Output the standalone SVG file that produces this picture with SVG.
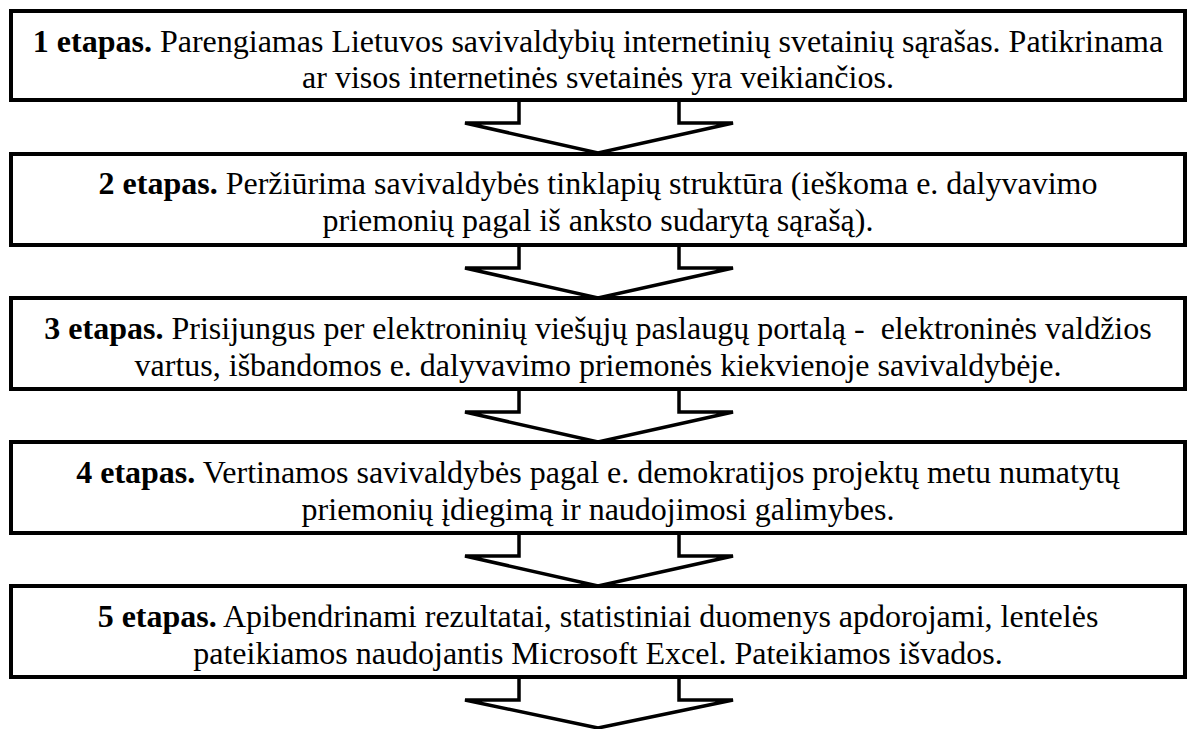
<svg xmlns="http://www.w3.org/2000/svg" width="1192" height="729" viewBox="0 0 1192 729">
<style>
.box{fill:#fff;stroke:#000;stroke-width:4}
.arr{fill:#fff;stroke:#000;stroke-width:3.5;stroke-linejoin:miter}
.t{font-family:"Liberation Serif","Times New Roman",serif;font-size:32px;fill:#000;text-anchor:middle;white-space:pre}
.b{font-weight:bold}
</style>
<rect width="1192" height="729" fill="#fff"/>
<g id="connectors">
<polygon class="arr" points="519,100 519,123 465,123 598,153 733,123 679,123 679,100"/>
<polygon class="arr" points="519,245 519,268 465,268 598,298 733,268 679,268 679,245"/>
<polygon class="arr" points="519,389 519,412 465,412 598,442 733,412 679,412 679,389"/>
<polygon class="arr" points="519,533 519,556 465,556 598,586 733,556 679,556 679,533"/>
<polygon class="arr" points="519,677 519,700 465,700 598,728 733,700 679,700 679,677"/>
</g>
<g id="node1">
<rect class="box" x="11" y="11" width="1174" height="89"/>
<text class="t" x="598" y="52"><tspan class="b">1 etapas.</tspan> Parengiamas Lietuvos savivaldybių internetinių svetainių sąrašas. Patikrinama</text>
<text class="t" x="598" y="88">ar visos internetinės svetainės yra veikiančios.</text>
</g>
<g id="node2">
<rect class="box" x="11" y="154" width="1174" height="91"/>
<text class="t" x="598" y="194"><tspan class="b">2 etapas.</tspan> Peržiūrima savivaldybės tinklapių struktūra (ieškoma e. dalyvavimo</text>
<text class="t" x="598" y="231">priemonių pagal iš anksto sudarytą sąrašą).</text>
</g>
<g id="node3">
<rect class="box" x="11" y="298" width="1174" height="91"/>
<text class="t" x="598" y="339"><tspan class="b">3 etapas.</tspan> Prisijungus per elektroninių viešųjų paslaugų portalą -  elektroninės valdžios</text>
<text class="t" x="598" y="376">vartus, išbandomos e. dalyvavimo priemonės kiekvienoje savivaldybėje.</text>
</g>
<g id="node4">
<rect class="box" x="11" y="442" width="1174" height="91"/>
<text class="t" x="598" y="483"><tspan class="b">4 etapas.</tspan> Vertinamos savivaldybės pagal e. demokratijos projektų metu numatytų</text>
<text class="t" x="598" y="520">priemonių įdiegimą ir naudojimosi galimybes.</text>
</g>
<g id="node5">
<rect class="box" x="11" y="586" width="1174" height="91"/>
<text class="t" x="598" y="627"><tspan class="b">5 etapas.</tspan> Apibendrinami rezultatai, statistiniai duomenys apdorojami, lentelės</text>
<text class="t" x="598" y="664">pateikiamos naudojantis Microsoft Excel. Pateikiamos išvados.</text>
</g>
</svg>
